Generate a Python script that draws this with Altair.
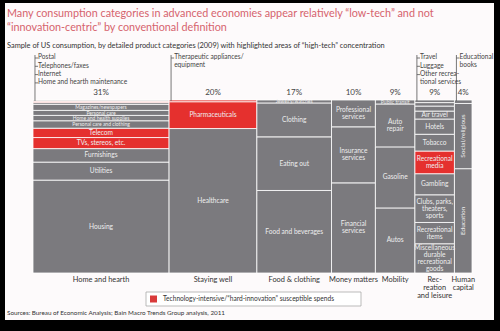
import altair as alt
import pandas as pd

# ---------------- data ----------------
columns = ["Home and hearth", "Staying well", "Food & clothing", "Money matters",
           "Mobility", "Recreation and leisure", "Human capital"]
col_labels = ["Home and hearth", "Staying well", "Food & clothing", "Money matters",
              "Mobility", "Rec-\nreation\nand leisure", "Human\ncapital"]
col_share = [31, 20, 17, 10, 9, 9, 4]

seg_names = [
    ["Housing", "Utilities", "Furnishings", "TVs, stereos, etc.", "Telecom",
     "Personal care and clothing", "Home and health supplies", "Personal care",
     "Magazines/newspapers", "Home and hearth maintenance", "Internet",
     "Telephones/faxes", "Postal"],
    ["Healthcare", "Pharmaceuticals", "Therapeutic appliances/equipment"],
    ["Food and beverages", "Eating out", "Clothing", "Jewelry/watches"],
    ["Financial services", "Insurance services", "Professional services"],
    ["Autos", "Gasoline", "Auto repair", "Public transit"],
    ["Miscellaneous durable recreational goods", "Recreational items",
     "Clubs, parks, theaters, sports", "Gambling", "Recreational media", "Tobacco",
     "Hotels", "Air travel", "Other recreational services", "Luggage", "Travel"],
    ["Education", "Social/religious", "Educational books"],
]
seg_values = [
    [53.7, 10.4, 7.8, 6.4, 5.4, 4.3, 3.1, 2.9, 3.5, 1.0, 0.6, 0.5, 0.4],
    [83.5, 15.5, 1.0],
    [47.7, 31.0, 19.6, 1.7],
    [52.1, 32.4, 15.5],
    [37.6, 35.3, 24.8, 2.3],
    [16.9, 12.3, 16.0, 12.2, 13.1, 9.7, 8.8, 4.6, 2.9, 2.0, 1.5],
    [60.3, 37.7, 2.0],
]
seg_tech = [
    [0, 0, 0, 1, 1, 0, 0, 0, 0, 0, 1, 1, 0],
    [0, 1, 1],
    [0, 0, 0, 0],
    [0, 0, 0],
    [0, 0, 0, 0],
    [0, 0, 0, 0, 1, 0, 0, 0, 0, 0, 0],
    [0, 0, 0],
]
seg_labels = [
    ["Housing", "Utilities", "Furnishings", "TVs, stereos, etc.", "Telecom",
     "Personal care and clothing", "Home and health supplies", "Personal care",
     "Magazines/newspapers", "", "", "", ""],
    ["Healthcare", "Pharmaceuticals", ""],
    ["Food and beverages", "Eating out", "Clothing", "Jewelry/watches"],
    ["Financial\nservices", "Insurance\nservices", "Professional\nservices"],
    ["Autos", "Gasoline", "Auto\nrepair", "Public transit"],
    ["Miscellaneous\ndurable\nrecreational\ngoods", "Recreational\nitems",
     "Clubs, parks,\ntheaters,\nsports", "Gambling", "Recreational\nmedia", "Tobacco",
     "Hotels", "Air travel", "", "", ""],
    ["Education", "Social/religious", ""],
]

callout_col = [0, 0, 0, 0, 1, 5, 5, 5, 6]
callout_row = [0, 1, 2, 3, 0, 0, 1, 2, 0]
callout_text = ["Postal", "Telephones/faxes", "Internet", "Home and hearth maintenance",
                "Therapeutic appliances/\nequipment", "Travel", "Luggage",
                "Other recrea-\ntional services", "Educational\nbooks"]

legend_text = "Technology-intensive/\u201chard-innovation\u201d susceptible spends"
title_lines = ["Many consumption categories in advanced economies appear relatively \u201clow-tech\u201d and not",
               "\u201cinnovation-centric\u201d by conventional definition"]
subtitle = "Sample of US consumption, by detailed product categories (2009) with highlighted areas of \u201chigh-tech\u201d concentration"
source = "Sources: Bureau of Economic Analysis; Bain Macro Trends Group analysis, 2011"

# ---------------- layout ----------------
W, H = 439, 173
PX_X = W / 100.0
PX_Y = H / 100.0
GRAY = "#7b7a7e"
RED = "#e5302e"
FONT = "Lato"
LH = 7.0

rows = []
col_x0 = []
x = 0.0
for ci, col in enumerate(columns):
    col_x0.append(x)
    y = 0.0
    for name, v, t, lab in zip(seg_names[ci], seg_values[ci], seg_tech[ci], seg_labels[ci]):
        nlines = lab.count("\n") + 1
        rows.append(dict(column=col, name=name, x0=x, x1=x + col_share[ci], y0=y, y1=y + v,
                         mx=x + col_share[ci] / 2,
                         my=y + v / 2 + (nlines - 1) * LH / 2 / PX_Y,
                         kind="tech" if t else "other", label=lab,
                         fs=5.0 if v < 4.5 else 6.6,
                         vertical=col_share[ci] < 5))
        y += v
    x += col_share[ci]
seg_df = pd.DataFrame(rows)

col_df = pd.DataFrame(dict(column=columns, label=col_labels,
                           pct=[f"{s}%" for s in col_share],
                           mid=[x0 + s / 2 for x0, s in zip(col_x0, col_share)]))

co_rows = []
for c, r, t in zip(callout_col, callout_row, callout_text):
    ypx = 42 - 8.3 * r
    co_rows.append(dict(text=t, lx=col_x0[c] + 0.45, tx=col_x0[c] + 1.15,
                        ty=100 + (ypx + 3.8) / PX_Y, yk=100 + ypx / PX_Y))
co_df = pd.DataFrame(co_rows)
line_rows = []
for c in sorted(set(callout_col)):
    line_rows.append(dict(lx=col_x0[c] + 0.45, ya=100 + 45 / PX_Y, yb=100 - 1 / PX_Y))
line_df = pd.DataFrame(line_rows)

xs = alt.Scale(domain=[0, 100], nice=False, zero=False)
ys = alt.Scale(domain=[0, 100], nice=False, zero=False)
one = pd.DataFrame({"a": [0]})

# white card on black frame
card = alt.Chart(one).mark_rect(fill="#fdfafb").encode(
    x=alt.value(-28), x2=alt.value(461), y=alt.value(-97), y2=alt.value(220))

rects = alt.Chart(seg_df).mark_rect(stroke="white", strokeWidth=0.8).encode(
    x=alt.X("x0:Q", scale=xs, axis=alt.Axis(labels=False, ticks=False, grid=False, title=None,
                                          domainColor="black", domainWidth=2)),
    x2="x1:Q",
    y=alt.Y("y0:Q", scale=ys, axis=alt.Axis(values=[0, 20, 40, 60, 80, 100],
                                          labelExpr="datum.value == 100 ? '100%' : datum.label",
                                          ticks=False, domain=False, grid=False, title=None,
                                          labelFontSize=8, labelColor="#555", labelPadding=4,
                                          labelFont=FONT)),
    y2="y1:Q",
    color=alt.Color("kind:N", scale=alt.Scale(domain=["other", "tech"], range=[GRAY, RED]),
                    legend=None),
)

seg_text = alt.Chart(seg_df).transform_filter(
    "datum.label != '' && !datum.vertical").mark_text(
    font=FONT, color="#eeeeee", lineBreak="\n", lineHeight=LH, baseline="middle").encode(
    x=alt.X("mx:Q", scale=xs), y=alt.Y("my:Q", scale=ys),
    text="label:N", size=alt.Size("fs:Q", scale=None))

seg_vtext = alt.Chart(seg_df).transform_filter(
    "datum.label != '' && datum.vertical").mark_text(
    font=FONT, color="#eeeeee", angle=270, fontSize=6.5, baseline="middle").encode(
    x=alt.X("mx:Q", scale=xs), y=alt.Y("my:Q", scale=ys), text="label:N")

pct_text = alt.Chart(col_df).mark_text(font=FONT, fontSize=8, color="#444").encode(
    x=alt.X("mid:Q", scale=xs), y=alt.value(-7), text="pct:N")

cat_text = alt.Chart(col_df).mark_text(font=FONT, fontSize=7.4, color="#333", baseline="top",
                                       lineBreak="\n", lineHeight=8).encode(
    x=alt.X("mid:Q", scale=xs), y=alt.value(3 + H), text="label:N")

co_lines = alt.Chart(line_df).mark_rule(color="#555", strokeWidth=0.8).encode(
    x=alt.X("lx:Q", scale=xs), y=alt.Y("ya:Q", scale=ys), y2="yb:Q")
co_ticks = alt.Chart(co_df).mark_rule(color="#555", strokeWidth=0.8).encode(
    x=alt.X("lx:Q", scale=xs), x2="tx:Q", y=alt.Y("yk:Q", scale=ys))
co_text = alt.Chart(co_df).mark_text(font=FONT, fontSize=6.6, color="#444", align="left",
                                     baseline="top", lineBreak="\n", lineHeight=8).encode(
    x=alt.X("tx:Q", scale=xs), y=alt.Y("ty:Q", scale=ys), text="text:N")

title1 = alt.Chart(one).mark_text(font=FONT, fontSize=10.8, color="#d6636d", align="left",
                                  baseline="middle").encode(
    x=alt.value(-26), y=alt.value(-86), text=alt.value(title_lines[0]))
title2 = alt.Chart(one).mark_text(font=FONT, fontSize=10.8, color="#d6636d", align="left",
                                  baseline="middle").encode(
    x=alt.value(-26), y=alt.value(-72), text=alt.value(title_lines[1]))
sub = alt.Chart(one).mark_text(font=FONT, fontSize=7.4, color="#333", align="left",
                               baseline="middle").encode(
    x=alt.value(-26), y=alt.value(-54), text=alt.value(subtitle))
src = alt.Chart(one).mark_text(font=FONT, fontSize=6.3, color="#333", align="left",
                               baseline="middle").encode(
    x=alt.value(-26), y=alt.value(213), text=alt.value(source))

leg_box = alt.Chart(one).mark_rect(fill="white", stroke="#aaa", strokeWidth=0.8).encode(
    x=alt.value(113), x2=alt.value(328), y=alt.value(192), y2=alt.value(206))
leg_sq = alt.Chart(one).mark_rect(fill="#d93a3a").encode(
    x=alt.value(117), x2=alt.value(124), y=alt.value(195.5), y2=alt.value(202.5))
leg_txt = alt.Chart(one).mark_text(font=FONT, fontSize=6.6, color="#333", align="left",
                                   baseline="middle").encode(
    x=alt.value(130), y=alt.value(199), text=alt.value(legend_text))

chart = alt.layer(
    card, rects, seg_text, seg_vtext, pct_text, cat_text, co_lines, co_ticks, co_text,
    title1, title2, sub, src, leg_box, leg_sq, leg_txt
).properties(
    width=W, height=H, autosize="none", background="#000000",
    padding={"left": 33, "top": 100, "right": 28, "bottom": 58},
).configure_view(stroke=None)

chart.save("out.html", embed_options={"renderer": "svg", "actions": False})
